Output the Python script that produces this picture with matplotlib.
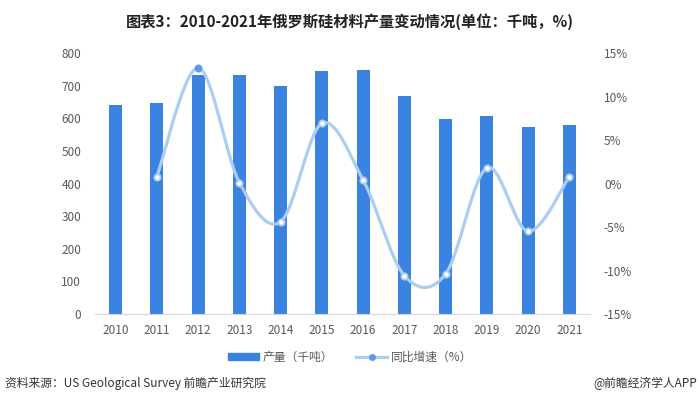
import matplotlib
matplotlib.use("Agg")
import matplotlib.pyplot as plt
from matplotlib.ticker import FuncFormatter
from matplotlib.patches import Patch
from matplotlib.lines import Line2D
import numpy as np

plt.rcParams['font.family'] = ['Noto Sans CJK SC', 'DejaVu Sans']
plt.rcParams['axes.unicode_minus'] = False

# 数据
years = ['2010', '2011', '2012', '2013', '2014', '2015', '2016',
         '2017', '2018', '2019', '2020', '2021']
output = [642, 647, 733, 733, 699, 746, 749, 668, 598, 608, 574, 578]
growth = [None, 0.8, 13.3, 0.1, -4.4, 6.9, 0.4, -10.6, -10.4, 1.8, -5.5, 0.8]

bar_color = '#3b83e1'
line_color = '#abcdf4'
text_color = '#595959'


def smooth_curve(xs, ys, n=30):
    """类似 Excel 的平滑曲线 (Catmull-Rom -> Bezier)"""
    pts = np.column_stack([xs, ys]).astype(float)
    out = []
    for i in range(len(pts) - 1):
        p0 = pts[i - 1] if i > 0 else pts[i]
        p1 = pts[i]
        p2 = pts[i + 1]
        p3 = pts[i + 2] if i + 2 < len(pts) else pts[i + 1]
        c1 = p1 + (p2 - p0) / 6
        c2 = p2 - (p3 - p1) / 6
        t = np.linspace(0, 1, n)[:, None]
        seg = ((1 - t) ** 3) * p1 + 3 * ((1 - t) ** 2) * t * c1 + 3 * (1 - t) * t ** 2 * c2 + t ** 3 * p2
        out.append(seg if i == 0 else seg[1:])
    seg = np.vstack(out)
    return seg[:, 0], seg[:, 1]


fig = plt.figure(figsize=(7, 4.07), dpi=100)
ax = fig.add_axes([95 / 700, 1 - 314 / 407, 495 / 700, 261 / 407])
ax2 = ax.twinx()

x = np.arange(len(years))
ax.bar(x, output, width=0.32, color=bar_color, zorder=2)
ax.set_xlim(-0.5, len(years) - 0.5)
ax.set_ylim(0, 800)
ax.set_yticks(range(0, 801, 100))
ax.set_xticks(x)
ax.set_xticklabels(years)

gx = np.array([i for i, g in enumerate(growth) if g is not None])
gy = np.array([g for g in growth if g is not None])
sx, sy = smooth_curve(gx, gy)
ax2.plot(sx, sy, color=line_color, lw=2.3, zorder=3, solid_capstyle='round')
ax2.plot(gx, gy, linestyle='none', marker='o', markersize=4.5,
         markerfacecolor='white', markeredgecolor=line_color, markeredgewidth=1.3, zorder=4)
# 2012 年的点为实心
peak = int(np.argmax(gy))
ax2.plot(gx[peak], gy[peak], linestyle='none', marker='o', markersize=4.5,
         markerfacecolor='#5b9be8', markeredgecolor='#5b9be8', zorder=5)
ax2.set_ylim(-15, 15)
ax2.set_yticks(range(-15, 16, 5))
ax2.yaxis.set_major_formatter(FuncFormatter(lambda v, p: f'{int(v)}%'))

for a in (ax, ax2):
    for s in ['top', 'left', 'right', 'bottom']:
        a.spines[s].set_visible(False)
    a.tick_params(axis='both', length=0, labelsize=8.5, labelcolor=text_color)
ax.spines['bottom'].set_visible(True)
ax.spines['bottom'].set_color('#d9d9d9')
ax.tick_params(axis='y', pad=10)
ax.tick_params(axis='x', pad=7)
ax2.tick_params(axis='y', pad=10)

# 标题
fig.text(0.5, 1 - 22 / 407, '图表3：2010-2021年俄罗斯硅材料产量变动情况(单位：千吨，%)',
         ha='center', va='center', fontsize=11, fontweight='bold', color='#222222')

# 图例
handles = [Patch(color=bar_color, label='产量（千吨）'),
           Line2D([0], [0], color=line_color, lw=2.3, marker='o', markersize=4,
                  markerfacecolor='#5b9be8', markeredgecolor='#5b9be8', label='同比增速（%）')]
fig.legend(handles=handles, loc='center', bbox_to_anchor=(0.5, 1 - 357 / 407), ncol=2,
           frameon=False, fontsize=8.5, labelcolor=text_color, handlelength=2.6,
           handleheight=0.6, columnspacing=2.0, handletextpad=0.3)

# 来源
fig.text(5 / 700, 1 - 383 / 407, '资料来源：US Geological Survey 前瞻产业研究院',
         ha='left', va='center', fontsize=8.5, color='#333333')
fig.text(697 / 700, 1 - 383 / 407, '@前瞻经济学人APP',
         ha='right', va='center', fontsize=8.5, color='#333333')

fig.savefig('out.png', dpi=100)
